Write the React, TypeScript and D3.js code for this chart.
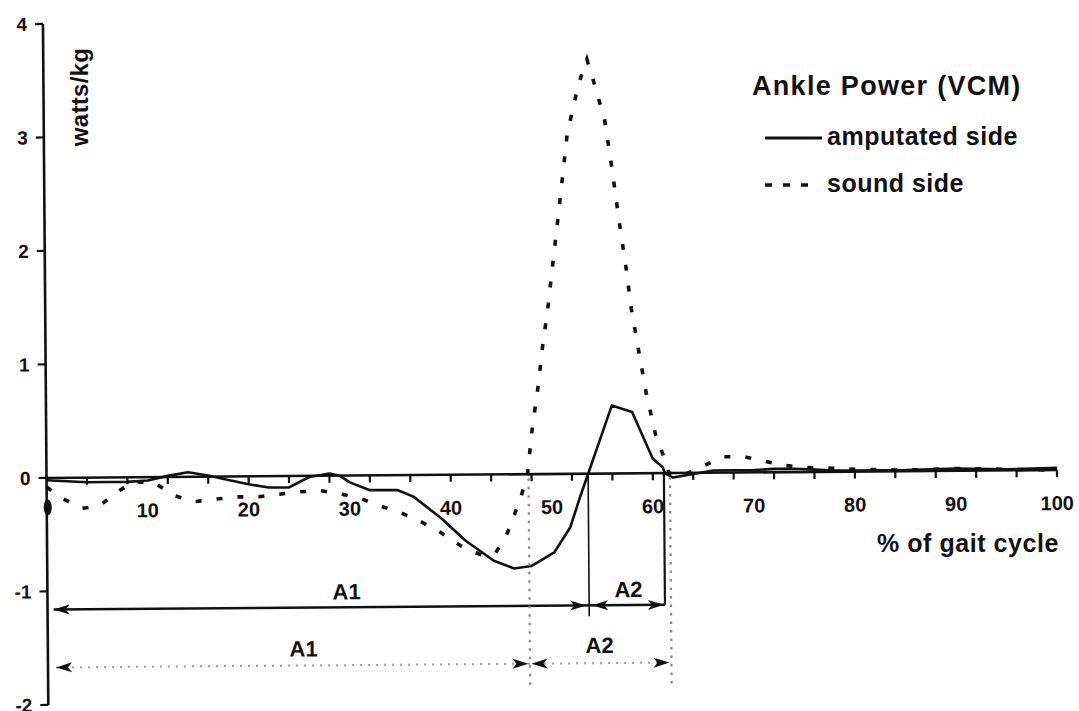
import React from "react";
import * as d3 from "d3";

// ---- data ----
const ampX = [0, 2, 4, 6, 8, 10, 12, 14, 16, 18, 20, 22, 24, 26, 28, 29, 30, 32, 34.7, 36.3, 39, 41.4, 44.2, 46.2, 47.9, 50.2, 51.8, 52.8, 53.6, 54.8, 56, 58, 60, 61, 61.2, 62, 64, 66, 68, 70, 72, 74, 76, 78, 80, 85, 90, 95, 100];
const ampY = [-0.02, -0.03, -0.04, -0.04, -0.04, -0.03, 0.01, 0.04, 0.01, -0.03, -0.07, -0.1, -0.1, -0.01, 0.02, 0.0, -0.06, -0.13, -0.13, -0.19, -0.38, -0.58, -0.76, -0.83, -0.81, -0.69, -0.47, -0.2, 0.0, 0.3, 0.6, 0.54, 0.13, 0.05, 0.0, -0.04, -0.01, 0.02, 0.02, 0.02, 0.03, 0.03, 0.02, 0.01, 0.01, 0.01, 0.02, 0.01, 0.02];

const soundX = [0, 1.5, 3.5, 5.2, 7, 8.5, 10.7, 12.5, 14.5, 16.5, 19, 21, 23, 25, 27, 29, 31, 33, 35, 37, 39, 41, 43, 44.4, 45.5, 46.3, 47, 47.6, 48.1, 48.7, 49.2, 49.8, 50.3, 50.8, 51.3, 51.8, 52.7, 53.2, 53.8, 54.4, 55.5, 56.1, 56.9, 57.5, 58, 58.7, 59.4, 60.3, 61, 61.6, 63, 65, 67, 69, 71, 73, 75, 78, 80, 85, 90, 95, 100];
const soundY = [-0.08, -0.18, -0.27, -0.25, -0.13, -0.04, -0.05, -0.16, -0.22, -0.2, -0.18, -0.18, -0.16, -0.14, -0.13, -0.16, -0.2, -0.27, -0.33, -0.41, -0.51, -0.63, -0.71, -0.69, -0.53, -0.35, -0.18, 0.0, 0.4, 0.76, 1.13, 1.5, 1.88, 2.24, 2.62, 3.0, 3.34, 3.5, 3.65, 3.47, 3.12, 2.75, 2.2, 1.82, 1.45, 1.08, 0.71, 0.34, 0.17, 0.0, -0.02, 0.06, 0.14, 0.14, 0.1, 0.06, 0.04, 0.03, 0.02, 0.01, 0.02, 0.01, 0.0];

const xTickLabels = [10, 20, 30, 40, 50, 60, 70, 80, 90, 100];
const xMinorTicks = [4, 8, 12, 16, 20, 24, 28, 32, 36, 40, 44, 48, 52, 56, 60, 64, 68, 72, 76, 80, 84, 88, 92, 96, 100];
const yTickLabels = [-2, -1, 0, 1, 2, 3, 4];

// phase brackets
const solidPhase = { level: -1.16, start: 0.6, split: 53.6, end: 61.1, splitBottom: -1.257 };
const dottedPhase = { level: -1.67, start: 0.8, split: 47.7, end: 61.7, lineBottom: -1.885 };
const phaseLabels = [
  { text: "A1", x: 29.6, y: -1.09 },
  { text: "A2", x: 57.5, y: -1.09 },
  { text: "A1", x: 25.3, y: -1.59 },
  { text: "A2", x: 54.6, y: -1.58 },
];

const FONT = "'Liberation Sans', Arial, Helvetica, sans-serif";

export default function App() {
  const x = d3.scaleLinear().domain([0, 100]).range([46.5, 1057]);
  const y = d3.scaleLinear().domain([-2, 4]).range([701, 20]);
  const x0 = x(0);
  const y0 = y(0);

  const ampPath = d3.line<number>().x((d, i) => x(ampX[i])).y((d) => y(d))(ampY) || "";
  const soundPath = d3.line<number>().x((d, i) => x(soundX[i])).y((d) => y(d))(soundY) || "";

  const arrow = (tipX: number, tipY: number, dir: number) => {
    const L = 16, W = 5, N = 12;
    return `M${tipX},${tipY} L${tipX - dir * L},${tipY - W} L${tipX - dir * N},${tipY} L${tipX - dir * L},${tipY + W} Z`;
  };

  const sy = y(solidPhase.level);
  const dy = y(dottedPhase.level);

  return (
    <svg
      width={1079}
      height={711}
      style={{ position: "absolute", left: 0, top: 0, background: "#fff" }}
      fontFamily={FONT}
      fontWeight="bold"
    >
      <rect x={0} y={0} width={1079} height={711} fill="#fff" />
      <g transform="rotate(-0.45 550 474)">
        {/* y axis */}
        <line x1={x0} x2={x0} y1={y(4)} y2={y(-2)} stroke="#111" strokeWidth={2.6} />
        {yTickLabels.map((v) => (
          <g key={"yt" + v}>
            <line x1={x0 - 8} x2={x0} y1={y(v)} y2={y(v)} stroke="#111" strokeWidth={2.2} />
            <text x={x0 - 16} y={y(v)} dy="0.36em" textAnchor="end" fontSize={19} fill="#111">
              {v}
            </text>
          </g>
        ))}
        {/* zero line with ticks */}
        <line x1={x0} x2={x(100)} y1={y0} y2={y0} stroke="#111" strokeWidth={2.6} />
        {xMinorTicks.map((v) => (
          <line key={"xt" + v} x1={x(v)} x2={x(v)} y1={y0} y2={y0 + 7} stroke="#111" strokeWidth={2.2} />
        ))}
        {xTickLabels.map((v) => (
          <text key={"xl" + v} x={x(v)} y={y0 + 40} textAnchor="middle" fontSize={20} fill="#111">
            {v}
          </text>
        ))}

        {/* curves */}
        <path d={soundPath} fill="none" stroke="#111" strokeWidth={3.6} strokeDasharray="6 15" />
        <path d={ampPath} fill="none" stroke="#111" strokeWidth={2.6} strokeLinejoin="round" />

        {/* marker blob near origin */}
        <ellipse cx={x(0.1)} cy={y(-0.26)} rx={4} ry={8} fill="#111" />

        {/* solid phase bracket */}
        <line x1={x(solidPhase.start)} x2={x(solidPhase.end)} y1={sy} y2={sy} stroke="#111" strokeWidth={2.4} />
        <line x1={x(solidPhase.split)} x2={x(solidPhase.split)} y1={y0} y2={y(solidPhase.splitBottom)} stroke="#111" strokeWidth={1.6} />
        <line x1={x(solidPhase.end)} x2={x(solidPhase.end)} y1={y0} y2={sy} stroke="#111" strokeWidth={2.2} />
        <path d={arrow(x(solidPhase.start), sy, -1)} fill="#111" />
        <path d={arrow(x(solidPhase.split) - 3, sy, 1)} fill="#111" />
        <path d={arrow(x(solidPhase.split) + 3, sy, -1)} fill="#111" />
        <path d={arrow(x(solidPhase.end) - 1, sy, 1)} fill="#111" />

        {/* dotted phase bracket */}
        <line x1={x(dottedPhase.start)} x2={x(dottedPhase.end)} y1={dy} y2={dy} stroke="#999" strokeWidth={2} strokeDasharray="2 6" />
        <line x1={x(dottedPhase.split)} x2={x(dottedPhase.split)} y1={y0 + 4} y2={y(dottedPhase.lineBottom)} stroke="#888" strokeWidth={2.2} strokeDasharray="2.5 6" />
        <line x1={x(dottedPhase.end)} x2={x(dottedPhase.end)} y1={y0 + 4} y2={y(dottedPhase.lineBottom)} stroke="#888" strokeWidth={2.2} strokeDasharray="2.5 6" />
        <path d={arrow(x(dottedPhase.start), dy, -1)} fill="#111" />
        <path d={arrow(x(dottedPhase.split) - 1.5, dy, 1)} fill="#111" />
        <path d={arrow(x(dottedPhase.split) + 1.5, dy, -1)} fill="#111" />
        <path d={arrow(x(dottedPhase.end) - 2, dy, 1)} fill="#111" />

        {phaseLabels.map((p, i) => (
          <text key={"pl" + i} x={x(p.x)} y={y(p.y)} textAnchor="middle" fontSize={22} fill="#111">
            {p.text}
          </text>
        ))}
      </g>

      {/* y-axis title */}
      <text transform="translate(88 97) rotate(-90)" textAnchor="middle" fontSize={24} fill="#111" letterSpacing={0.3}>
        watts/kg
      </text>

      {/* x-axis title */}
      <text x={877} y={552} fontSize={25} fill="#111" letterSpacing={0.55}>
        % of gait cycle
      </text>

      {/* legend */}
      <text x={752} y={95} fontSize={27} fill="#111" letterSpacing={1.3}>
        Ankle Power (VCM)
      </text>
      <line x1={765} x2={822} y1={138} y2={138} stroke="#111" strokeWidth={2.8} />
      <text x={827} y={145} fontSize={25} fill="#111" letterSpacing={0.55}>
        amputated side
      </text>
      <line x1={765} x2={809} y1={185} y2={185} stroke="#111" strokeWidth={3.4} strokeDasharray="7 11" />
      <text x={827} y={192} fontSize={25} fill="#111" letterSpacing={0.5}>
        sound side
      </text>
    </svg>
  );
}
